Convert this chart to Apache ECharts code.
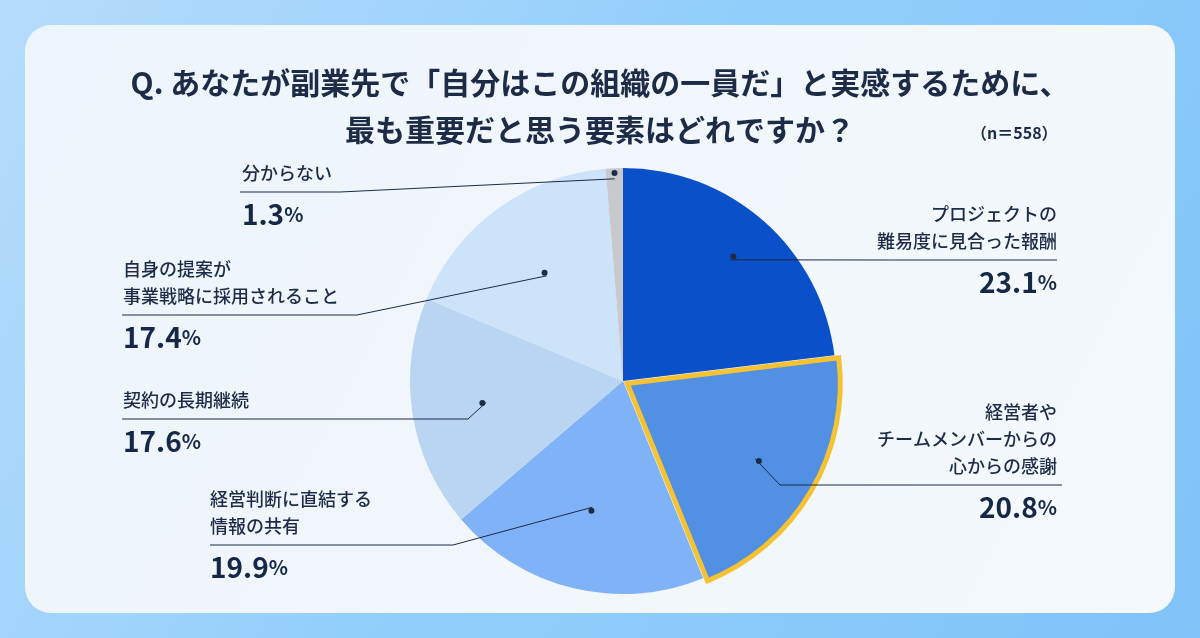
<!DOCTYPE html>
<html lang="ja">
<head>
<meta charset="utf-8">
<title>副業先で組織の一員だと実感するための要素</title>
<script src="https://cdn.jsdelivr.net/npm/echarts@6/dist/echarts.min.js"></script>
<style>
    html, body { margin: 0; padding: 0; }
    body { background: linear-gradient(120deg, #b6dcfb 0%, #93cffb 45%, #80c3f8 100%); }
    #main { width: 1200px; height: 638px; }
</style>
</head>
<body>
<div id="main"></div>
<script>
// 回答項目（時計回り、12時から）
var categories = [
    'プロジェクトの\n難易度に見合った報酬',
    '経営者や\nチームメンバーからの\n心からの感謝',
    '経営判断に直結する\n情報の共有',
    '契約の長期継続',
    '自身の提案が\n事業戦略に採用されること',
    '分からない'
];
var values = [23.1, 20.8, 19.9, 17.6, 17.4, 1.3];
var sampleSize = 558;

var sliceColors = ['#0a50c9', '#5190e3', '#80b2f8', '#b9d5f1', '#cde3f9', '#c7c9cc'];
var highlightIndex = 1;

// ラベル配置（線の終点・折れ点・文字位置）
var pieCenter = [623, 381];
var pieRadius = 213;
var spots = [
    { side: 'right', textX: 1057, lineEnd: 1057, lineY: 260, elbowX: null },
    { side: 'right', textX: 1057, lineEnd: 1062, lineY: 485, elbowX: 780 },
    { side: 'left',  textX: 210,  lineEnd: 210,  lineY: 545, elbowX: 453 },
    { side: 'left',  textX: 123,  lineEnd: 122,  lineY: 419, elbowX: 468 },
    { side: 'left',  textX: 123,  lineEnd: 122,  lineY: 315, elbowX: 357 },
    { side: 'left',  textX: 242,  lineEnd: 240,  lineY: 192, elbowX: 340 }
];
var dotRatio = [0.76, 0.72, 0.61, 0.65, 0.61, 0.95];

var textColor = '#1c2b46';
var fontCJK = '"Noto Sans CJK JP", "Noto Sans", sans-serif';
var clear = 'rgba(0,0,0,0)';

function toDot(p, k) {
    return [
        pieCenter[0] + (p[0] - pieCenter[0]) * k,
        pieCenter[1] + (p[1] - pieCenter[1]) * k
    ];
}

function pieData(styleFn, selectable) {
    return categories.map(function (name, i) {
        return {
            name: name,
            value: values[i],
            selected: selectable ? i === highlightIndex : false,
            itemStyle: styleFn(i)
        };
    });
}

var myChart = echarts.init(document.getElementById('main'));

var pieBase = {
    type: 'pie',
    center: pieCenter,
    radius: pieRadius,
    startAngle: 90,
    clockwise: true,
    avoidLabelOverlap: false,
    emphasis: { disabled: true },
    animation: false
};

var option = {
    backgroundColor: 'transparent',
    textStyle: { fontFamily: fontCJK },
    graphic: [{
        type: 'rect',
        z: -10,
        shape: { x: 25, y: 25, width: 1150, height: 588, r: 26 },
        style: {
            fill: new echarts.graphic.LinearGradient(0, 0, 1, 1, [
                { offset: 0, color: '#edf4fb' },
                { offset: 1, color: '#f5f9fd' }
            ])
        }
    }],
    title: [{
        text: 'Q. あなたが副業先で「自分はこの組織の一員だ」と実感するために、\n最も重要だと思う要素はどれですか？',
        left: 'center',
        top: 54,
        textStyle: {
            color: textColor,
            fontSize: 30,
            fontWeight: 'bold',
            lineHeight: 47,
            fontFamily: fontCJK
        }
    }, {
        text: '（n＝' + sampleSize + '）',
        left: 966,
        top: 120,
        textStyle: { color: textColor, fontSize: 16, fontWeight: 'bold', fontFamily: fontCJK }
    }],
    series: [
        // 本体の円グラフ
        Object.assign({}, pieBase, {
            name: '回答',
            z: 2,
            selectedMode: 'single',
            selectedOffset: 5,
            data: pieData(function (i) { return { color: sliceColors[i] }; }, true),
            label: { show: false },
            labelLine: { show: false }
        }),
        // 強調枠（黄色）
        Object.assign({}, pieBase, {
            name: '強調',
            z: 3,
            silent: true,
            selectedMode: 'single',
            selectedOffset: 5,
            data: pieData(function (i) {
                return i === highlightIndex
                    ? { color: clear, borderColor: '#f4c232', borderWidth: 5, borderJoin: 'miter' }
                    : { color: clear, borderWidth: 0 };
            }, true),
            label: { show: false },
            labelLine: { show: false }
        }),
        // 項目名と引き出し線
        Object.assign({}, pieBase, {
            name: '項目',
            z: 4,
            silent: true,
            data: pieData(function () { return { color: clear }; }, false),
            label: {
                show: true,
                position: 'outside',
                formatter: '{b}',
                color: textColor,
                fontSize: 18,
                fontWeight: 500,
                lineHeight: 27,
                fontFamily: fontCJK
            },
            labelLine: {
                show: true,
                length: 10,
                length2: 10,
                lineStyle: { color: '#1c2b46', width: 1 }
            },
            labelLayout: function (params) {
                var i = params.dataIndex;
                var s = spots[i];
                var dot = toDot(params.labelLinePoints[0], dotRatio[i]);
                var mid = s.elbowX != null ? [s.elbowX, s.lineY] : [(dot[0] + s.lineEnd) / 2, s.lineY];
                return {
                    x: s.textX,
                    y: s.lineY - 5,
                    align: s.side === 'right' ? 'right' : 'left',
                    verticalAlign: 'bottom',
                    labelLinePoints: [dot, mid, [s.lineEnd, s.lineY]]
                };
            }
        }),
        // 割合
        Object.assign({}, pieBase, {
            name: '割合',
            z: 4,
            silent: true,
            data: pieData(function () { return { color: clear }; }, false),
            label: {
                show: true,
                position: 'outside',
                formatter: function (p) {
                    return '{v|' + p.value.toFixed(1) + '}{u|%}';
                },
                rich: {
                    v: { fontSize: 28, fontWeight: 'bold', color: '#152848', fontFamily: fontCJK, lineHeight: 34 },
                    u: { fontSize: 20, fontWeight: 'bold', color: '#152848', fontFamily: fontCJK, lineHeight: 34 }
                }
            },
            labelLine: { show: false },
            labelLayout: function (params) {
                var s = spots[params.dataIndex];
                return {
                    x: s.textX,
                    y: s.lineY + 5,
                    align: s.side === 'right' ? 'right' : 'left',
                    verticalAlign: 'top'
                };
            }
        }),
        // 引き出し線の起点
        Object.assign({}, pieBase, {
            name: '点',
            z: 5,
            silent: true,
            radius: [0, pieRadius],
            data: pieData(function () { return { color: clear }; }, false),
            label: {
                show: true,
                position: 'inside',
                formatter: '{d|}',
                rich: {
                    d: { width: 6, height: 6, borderRadius: 3, backgroundColor: '#1c2b46' }
                }
            },
            labelLine: { show: false },
            labelLayout: function (params) {
                var r = params.labelRect;
                var c = [r.x + r.width / 2, r.y + r.height / 2];
                var dot = toDot(c, dotRatio[params.dataIndex] * 2);
                return { x: dot[0], y: dot[1], align: 'center', verticalAlign: 'middle' };
            }
        })
    ]
};

myChart.setOption(option);

window.addEventListener('resize', function () {
    myChart.resize();
});
</script>
</body>
</html>
